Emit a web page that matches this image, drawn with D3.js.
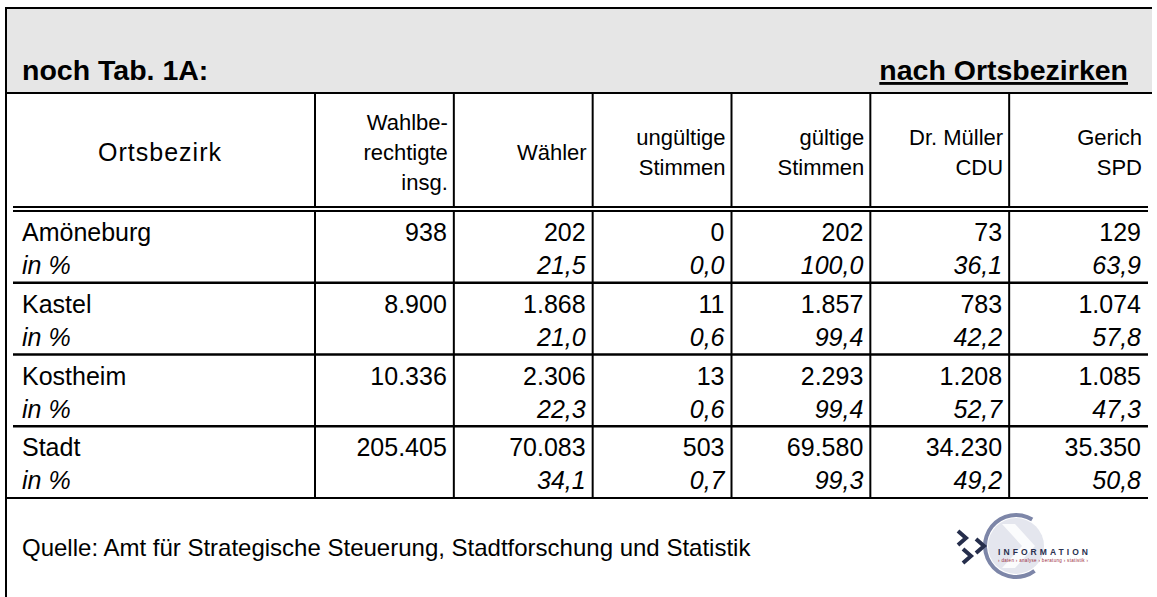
<!DOCTYPE html>
<html>
<head>
<meta charset="utf-8">
<script src="https://cdn.jsdelivr.net/npm/d3@7"></script>
<style>
body{margin:0;background:#fff}
svg{display:block;font-family:"Liberation Sans",Arial,sans-serif}
</style>
</head>
<body>
<script>
// table data
const districts = ["Amöneburg", "Kastel", "Kostheim", "Stadt"];
const wahlberechtigte = [938, 8900, 10336, 205405];
const waehler = [202, 1868, 2306, 70083];
const ungueltig = [0, 11, 13, 503];
const gueltig = [202, 1857, 2293, 69580];
const mueller = [73, 783, 1208, 34230];
const gerich = [129, 1074, 1085, 35350];

const waehlerPct = [21.5, 21.0, 22.3, 34.1];
const ungueltigPct = [0.0, 0.6, 0.6, 0.7];
const gueltigPct = [100.0, 99.4, 99.4, 99.3];
const muellerPct = [36.1, 42.2, 52.7, 49.2];
const gerichPct = [63.9, 57.8, 47.3, 50.8];

const headers = [["Wahlbe-", "rechtigte", "insg."], ["Wähler"], ["ungültige", "Stimmen"],
                 ["gültige", "Stimmen"], ["Dr. Müller", "CDU"], ["Gerich", "SPD"]];

const counts = [wahlberechtigte, waehler, ungueltig, gueltig, mueller, gerich];
const pcts = [null, waehlerPct, ungueltigPct, gueltigPct, muellerPct, gerichPct];

const de = d3.formatLocale({decimal: ",", thousands: ".", grouping: [3], currency: ["", " €"]});
const fInt = de.format(",d");
const fPct = de.format(",.1f");

const w = 1157, h = 597;

const svg = d3.select("body").append("svg")
  .attr("width", w)
  .attr("height", h);

// title band
svg.append("rect")
  .attr("x", 6).attr("y", 8)
  .attr("width", 1146).attr("height", 85)
  .attr("fill", "#e6e6e6");

svg.append("text")
  .attr("x", 22).attr("y", 80)
  .attr("font-size", 28.5).attr("font-weight", "bold")
  .text("noch Tab. 1A:");

svg.append("text")
  .attr("x", 1128).attr("y", 80)
  .attr("text-anchor", "end")
  .attr("font-size", 28.5).attr("font-weight", "bold")
  .attr("text-decoration", "underline")
  .text("nach Ortsbezirken");

const xscale = d3.scaleBand()
  .domain(d3.range(headers.length))
  .range([315, 1148]);

const yscale = d3.scaleBand()
  .domain(districts)
  .range([211, 498]);

const line = (x1, y1, x2, y2, sw) => svg.append("line")
  .attr("x1", x1).attr("y1", y1).attr("x2", x2).attr("y2", y2)
  .attr("stroke", "#000").attr("stroke-width", sw || 2);

// frame
line(6, 8, 1152, 8);
line(6, 7, 6, h);
line(6, 93, 1152, 93);

// header row
svg.append("text")
  .attr("x", 98).attr("y", 161)
  .attr("font-size", 25)
  .attr("textLength", 123).attr("lengthAdjust", "spacing")
  .text("Ortsbezirk");

headers.forEach((lines, i) => {
  const xr = xscale(i) + xscale.bandwidth() - 6;
  lines.forEach((t, j) => {
    svg.append("text")
      .attr("x", xr)
      .attr("y", 152 + (j - (lines.length - 1) / 2) * 30 + 8)
      .attr("text-anchor", "end")
      .attr("font-size", 22)
      .text(t);
  });
});

// vertical dividers
xscale.domain().forEach(i => {
  line(xscale(i), 93, xscale(i), 206);
  line(xscale(i), 211, xscale(i), 498);
});

// double line under header
line(13, 207, 1148, 207);
line(13, 211, 1148, 211);

// rows
districts.forEach((d, r) => {
  const top = yscale(d);
  if (r > 0) line(13, top, 1148, top, 2.4);

  svg.append("text")
    .attr("x", 22).attr("y", top + 30)
    .attr("font-size", 25)
    .text(d);
  svg.append("text")
    .attr("x", 22).attr("y", top + 63)
    .attr("font-size", 25).attr("font-style", "italic")
    .text("in %");

  counts.forEach((arr, i) => {
    const xr = xscale(i) + xscale.bandwidth() - 7;
    svg.append("text")
      .attr("x", xr).attr("y", top + 30)
      .attr("text-anchor", "end")
      .attr("font-size", 25)
      .text(fInt(arr[r]));
    if (pcts[i]) {
      svg.append("text")
        .attr("x", xr).attr("y", top + 63)
        .attr("text-anchor", "end")
        .attr("font-size", 25).attr("font-style", "italic")
        .text(fPct(pcts[i][r]));
    }
  });
});

line(6, 498, 1148, 498);

// source
svg.append("text")
  .attr("x", 22).attr("y", 556)
  .attr("font-size", 24)
  .text("Quelle: Amt für Strategische Steuerung, Stadtforschung und Statistik");

// logo
const logo = svg.append("g").attr("transform", "translate(1016,546)");
logo.append("circle").attr("r", 28).attr("fill", "#e4e6ee");
logo.append("path")
  .attr("d", "M-14,-22 L-1,-22 L19,0 L-1,22 L-14,22 L6,0 Z")
  .attr("fill", "#ffffff").attr("opacity", 0.85);
logo.append("path")
  .attr("d", d3.arc().innerRadius(29).outerRadius(33).startAngle(2.5).endAngle(Math.PI * 2 + 0.55)())
  .attr("fill", "#7d86a8");
[[-54, -8], [-36, 0], [-49, 10]].forEach(p => {
  logo.append("path")
    .attr("d", `M${p[0] - 4},${p[1] - 7} L${p[0] + 4},${p[1]} L${p[0] - 4},${p[1] + 7}`)
    .attr("fill", "none").attr("stroke", "#262e4c").attr("stroke-width", 4);
});
logo.append("text")
  .attr("x", -18).attr("y", 9)
  .attr("font-size", 8.5).attr("font-weight", "bold")
  .attr("fill", "#2a3150")
  .attr("textLength", 90).attr("lengthAdjust", "spacing")
  .text("INFORMATION");
logo.append("text")
  .attr("x", -18).attr("y", 16)
  .attr("font-size", 4.5)
  .attr("fill", "#9a2a3a")
  .attr("textLength", 90).attr("lengthAdjust", "spacing")
  .text("› daten › analyse › beratung › statistik ›");
</script>
</body>
</html>
